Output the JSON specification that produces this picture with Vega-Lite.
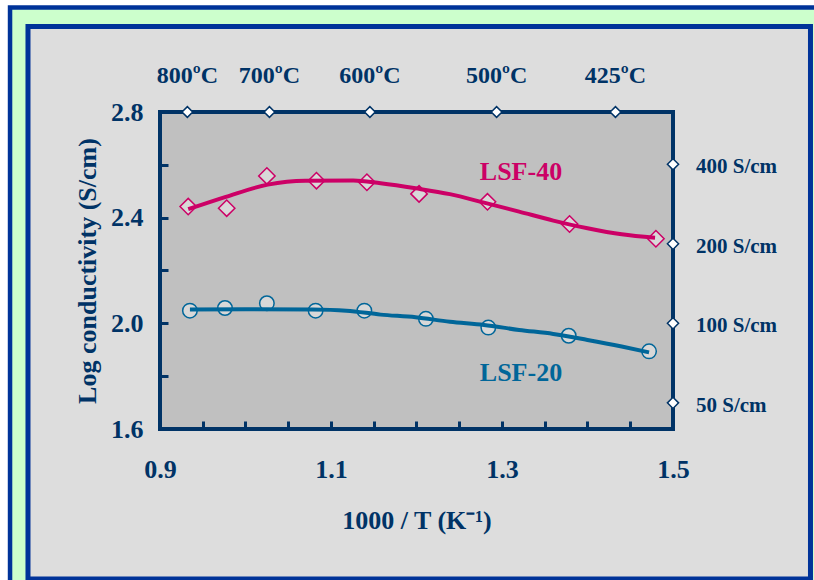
{
  "$schema": "https://vega.github.io/schema/vega-lite/v6.json",
  "width": 513,
  "height": 317,
  "autosize": {"type": "none"},
  "padding": {"left": 160, "top": 112, "right": 141, "bottom": 151},
  "background": "white",
  "config": {"view": {"stroke": null}, "font": "Liberation Serif"},
  "datasets": {
    "points": [
      {"series": "LSF-40", "x": 0.933, "y": 2.442},
      {"series": "LSF-40", "x": 0.978, "y": 2.436},
      {"series": "LSF-40", "x": 1.025, "y": 2.558},
      {"series": "LSF-40", "x": 1.083, "y": 2.540},
      {"series": "LSF-40", "x": 1.142, "y": 2.534},
      {"series": "LSF-40", "x": 1.203, "y": 2.490},
      {"series": "LSF-40", "x": 1.283, "y": 2.460},
      {"series": "LSF-40", "x": 1.379, "y": 2.376},
      {"series": "LSF-40", "x": 1.480, "y": 2.320},
      {"series": "LSF-20", "x": 0.935, "y": 2.048},
      {"series": "LSF-20", "x": 0.976, "y": 2.058},
      {"series": "LSF-20", "x": 1.025, "y": 2.076},
      {"series": "LSF-20", "x": 1.082, "y": 2.048},
      {"series": "LSF-20", "x": 1.139, "y": 2.048},
      {"series": "LSF-20", "x": 1.211, "y": 2.017},
      {"series": "LSF-20", "x": 1.284, "y": 1.984},
      {"series": "LSF-20", "x": 1.378, "y": 1.953},
      {"series": "LSF-20", "x": 1.472, "y": 1.894}
    ],
    "curves": [
      {"series": "LSF-40", "x": 0.933, "y": 2.432},
      {"series": "LSF-40", "x": 0.977, "y": 2.479},
      {"series": "LSF-40", "x": 1.026, "y": 2.525},
      {"series": "LSF-40", "x": 1.070, "y": 2.540},
      {"series": "LSF-40", "x": 1.126, "y": 2.541},
      {"series": "LSF-40", "x": 1.158, "y": 2.530},
      {"series": "LSF-40", "x": 1.199, "y": 2.511},
      {"series": "LSF-40", "x": 1.239, "y": 2.489},
      {"series": "LSF-40", "x": 1.279, "y": 2.457},
      {"series": "LSF-40", "x": 1.320, "y": 2.423},
      {"series": "LSF-40", "x": 1.360, "y": 2.389},
      {"series": "LSF-40", "x": 1.400, "y": 2.360},
      {"series": "LSF-40", "x": 1.440, "y": 2.337},
      {"series": "LSF-40", "x": 1.479, "y": 2.324},
      {"series": "LSF-20", "x": 0.935, "y": 2.052},
      {"series": "LSF-20", "x": 1.000, "y": 2.053},
      {"series": "LSF-20", "x": 1.078, "y": 2.052},
      {"series": "LSF-20", "x": 1.118, "y": 2.048},
      {"series": "LSF-20", "x": 1.158, "y": 2.033},
      {"series": "LSF-20", "x": 1.199, "y": 2.023},
      {"series": "LSF-20", "x": 1.239, "y": 2.006},
      {"series": "LSF-20", "x": 1.279, "y": 1.994},
      {"series": "LSF-20", "x": 1.320, "y": 1.975},
      {"series": "LSF-20", "x": 1.360, "y": 1.960},
      {"series": "LSF-20", "x": 1.400, "y": 1.937},
      {"series": "LSF-20", "x": 1.440, "y": 1.912},
      {"series": "LSF-20", "x": 1.472, "y": 1.890}
    ],
    "temps": [
      {"label": "800ºC", "inv": 0.932},
      {"label": "700ºC", "inv": 1.028},
      {"label": "600ºC", "inv": 1.1455},
      {"label": "500ºC", "inv": 1.2937},
      {"label": "425ºC", "inv": 1.4327}
    ],
    "cond": [
      {"label": "400 S/cm", "logs": 2.602},
      {"label": "200 S/cm", "logs": 2.301},
      {"label": "100 S/cm", "logs": 2.0},
      {"label": "50 S/cm", "logs": 1.699}
    ]
  },
  "layer": [
    {
      "data": {"values": [{}]},
      "mark": {"type": "rect", "fill": "#ccffcc", "stroke": "#003399", "strokeWidth": 4.5},
      "encoding": {
        "x": {"datum": 0.7246, "type": "quantitative", "scale": {"domain": [0.9, 1.5], "nice": false, "zero": false}},
        "x2": {"datum": 1.69},
        "y": {"datum": 3.1955, "type": "quantitative", "scale": {"domain": [1.6, 2.8], "nice": false, "zero": false}},
        "y2": {"datum": 0.95}
      }
    },
    {
      "data": {"values": [{}]},
      "mark": {"type": "rect", "fill": "#dddddd", "stroke": "#003399", "strokeWidth": 5},
      "encoding": {
        "x": {"datum": 0.7456, "type": "quantitative"},
        "x2": {"datum": 1.6608},
        "y": {"datum": 3.1237, "type": "quantitative"},
        "y2": {"datum": 1.0322}
      }
    },
    {
      "data": {"values": [{}]},
      "mark": {"type": "rect", "fill": "#c0c0c0", "stroke": "#003366", "strokeWidth": 4},
      "encoding": {
        "x": {"datum": 0.9, "type": "quantitative"},
        "x2": {"datum": 1.5},
        "y": {"datum": 1.6, "type": "quantitative"},
        "y2": {"datum": 2.8}
      }
    },
    {
      "data": {"name": "points"},
      "mark": {"type": "point", "fill": "#dcdcdc", "fillOpacity": 0.85, "strokeWidth": 1.5, "opacity": 1},
      "encoding": {
        "x": {
          "field": "x", "type": "quantitative",
          "axis": {
            "title": "1000 / T (K⁻¹)",
            "values": [0.9, 0.95, 1.0, 1.05, 1.1, 1.15, 1.2, 1.25, 1.3, 1.35, 1.4, 1.45, 1.5],
            "labelExpr": "(round(datum.value*100) % 20 == 10) ? format(datum.value, '.1f') : ''",
            "domain": false, "grid": false, "zindex": 1,
            "tickSize": -8, "tickWidth": 3, "tickColor": "#003366",
            "labelFont": "Liberation Serif", "labelFontWeight": "bold", "labelFontSize": 26, "labelColor": "#003366",
            "labelPadding": 35, "labelOverlap": false, "labelFlush": false,
            "titleFont": "Liberation Serif", "titleFontWeight": "bold", "titleFontSize": 26, "titleColor": "#003366",
            "titlePadding": 25
          }
        },
        "y": {
          "field": "y", "type": "quantitative",
          "axis": {
            "title": "Log conductivity (S/cm)",
            "values": [1.6, 1.7, 1.8, 1.9, 2.0, 2.1, 2.2, 2.3, 2.4, 2.5, 2.6, 2.7, 2.8],
            "labelExpr": "(round(datum.value*10) % 4 == 0) ? format(datum.value, '.1f') : ''",
            "domain": false, "grid": false, "zindex": 1,
            "tickSize": -8, "tickWidth": 3, "tickColor": "#003366",
            "labelFont": "Liberation Serif", "labelFontWeight": "bold", "labelFontSize": 26, "labelColor": "#003366",
            "labelPadding": 25, "labelOverlap": false, "labelFlush": false,
            "titleFont": "Liberation Serif", "titleFontWeight": "bold", "titleFontSize": 26, "titleColor": "#003366",
            "titlePadding": 10
          }
        },
        "stroke": {"field": "series", "type": "nominal", "scale": {"domain": ["LSF-40", "LSF-20"], "range": ["#cc0066", "#006699"]}, "legend": null},
        "shape": {"field": "series", "type": "nominal", "scale": {"domain": ["LSF-40", "LSF-20"], "range": ["diamond", "circle"]}, "legend": null},
        "size": {"field": "series", "type": "ordinal", "scale": {"domain": ["LSF-40", "LSF-20"], "range": [270, 210]}, "legend": null}
      }
    },
    {
      "data": {"name": "curves"},
      "mark": {"type": "line", "strokeWidth": 4, "interpolate": "monotone"},
      "encoding": {
        "x": {"field": "x", "type": "quantitative"},
        "y": {"field": "y", "type": "quantitative"},
        "color": {"field": "series", "type": "nominal", "scale": {"domain": ["LSF-40", "LSF-20"], "range": ["#cc0066", "#006699"]}, "legend": null}
      }
    },
    {
      "data": {"name": "temps"},
      "mark": {"type": "point", "shape": "diamond", "size": 115, "filled": true, "fill": "white", "stroke": "#003366", "strokeWidth": 1.5, "opacity": 1},
      "encoding": {
        "x": {"field": "inv", "type": "quantitative"},
        "y": {"datum": 2.8, "type": "quantitative"}
      }
    },
    {
      "data": {"name": "temps"},
      "mark": {"type": "text", "font": "Liberation Serif", "fontWeight": "bold", "fontSize": 24, "color": "#003366", "align": "center", "baseline": "middle", "dy": -36},
      "encoding": {
        "x": {"field": "inv", "type": "quantitative"},
        "y": {"datum": 2.8, "type": "quantitative"},
        "text": {"field": "label"}
      }
    },
    {
      "data": {"name": "cond"},
      "mark": {"type": "point", "shape": "diamond", "size": 125, "filled": true, "fill": "white", "stroke": "#003366", "strokeWidth": 1.5, "opacity": 1},
      "encoding": {
        "x": {"datum": 1.5, "type": "quantitative"},
        "y": {"field": "logs", "type": "quantitative"}
      }
    },
    {
      "data": {"name": "cond"},
      "mark": {"type": "text", "font": "Liberation Serif", "fontWeight": "bold", "fontSize": 21, "color": "#003366", "align": "left", "baseline": "middle", "dx": 23, "dy": 3},
      "encoding": {
        "x": {"datum": 1.5, "type": "quantitative"},
        "y": {"field": "logs", "type": "quantitative"},
        "text": {"field": "label"}
      }
    },
    {
      "data": {"values": [{"series": "LSF-40"}]},
      "mark": {"type": "text", "font": "Liberation Serif", "fontWeight": "bold", "fontSize": 26, "color": "#cc0066", "align": "center", "baseline": "middle"},
      "encoding": {
        "x": {"datum": 1.3222, "type": "quantitative"},
        "y": {"datum": 2.573, "type": "quantitative"},
        "text": {"field": "series"}
      }
    },
    {
      "data": {"values": [{"series": "LSF-20"}]},
      "mark": {"type": "text", "font": "Liberation Serif", "fontWeight": "bold", "fontSize": 26, "color": "#006699", "align": "center", "baseline": "middle"},
      "encoding": {
        "x": {"datum": 1.3222, "type": "quantitative"},
        "y": {"datum": 1.812, "type": "quantitative"},
        "text": {"field": "series"}
      }
    }
  ]
}
